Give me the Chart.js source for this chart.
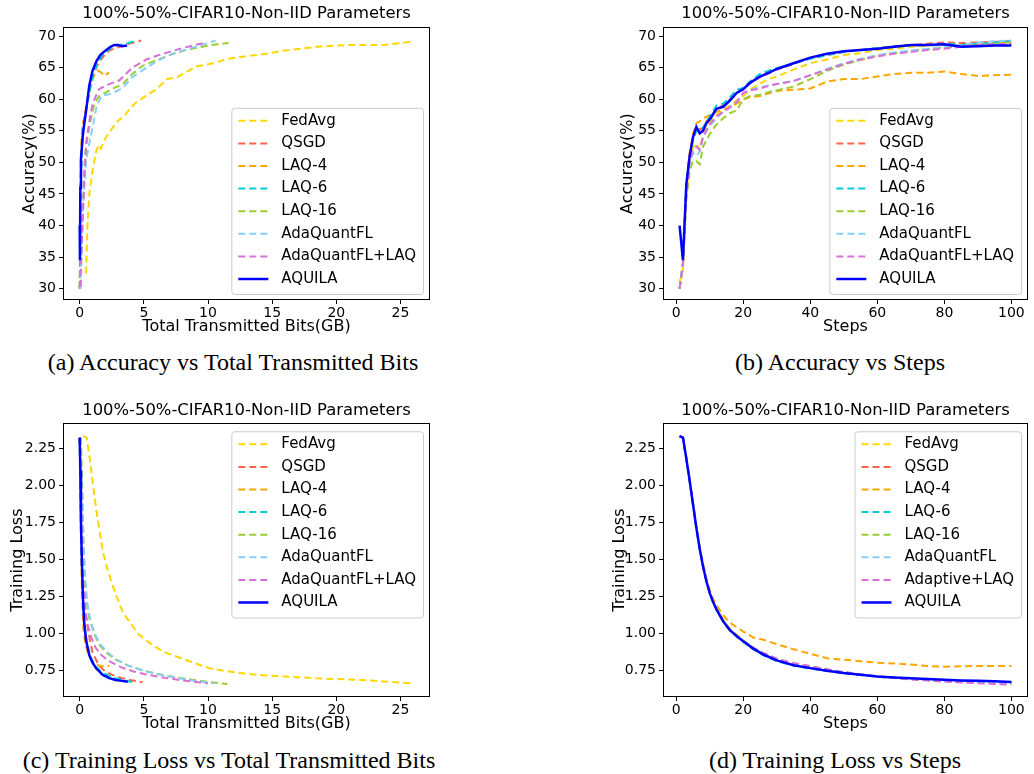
<!DOCTYPE html>
<html>
<head>
<meta charset="utf-8">
<script src="https://cdn.jsdelivr.net/npm/chart.js@4.4.1/dist/chart.umd.min.js"></script>
<style>
  body { margin: 0; width: 1034px; height: 774px; background: #fff; position: relative; overflow: hidden; }
  canvas { position: absolute; }
  .cap { position: absolute; font-family: 'Liberation Serif', 'Times New Roman', serif; font-size: 24px; line-height: 26px; color: #000; white-space: nowrap; transform: translateX(-50%); }
</style>
</head>
<body>
<canvas id="chartA" width="440" height="340" style="left:0;top:0"></canvas>
<canvas id="chartB" width="444" height="340" style="left:590px;top:0"></canvas>
<canvas id="chartC" width="440" height="340" style="left:0;top:397px"></canvas>
<canvas id="chartD" width="444" height="340" style="left:590px;top:397px"></canvas>
<div class="cap" style="left:233px;top:349px">(a) Accuracy vs Total Transmitted Bits</div>
<div class="cap" style="left:840px;top:349px">(b) Accuracy vs Steps</div>
<div class="cap" style="left:229px;top:747px">(c) Training Loss vs Total Transmitted Bits</div>
<div class="cap" style="left:835px;top:747px">(d) Training Loss vs Steps</div>
<script>
// ── Data ─────────────────────────────────────────────────────
const panelTitle = '100%-50%-CIFAR10-Non-IID Parameters';
const seriesNames = ['FedAvg', 'QSGD', 'LAQ-4', 'LAQ-6', 'LAQ-16', 'AdaQuantFL', 'AdaQuantFL+LAQ', 'AQUILA'];
const seriesNamesD = ['FedAvg', 'QSGD', 'LAQ-4', 'LAQ-6', 'LAQ-16', 'AdaQuantFL', 'Adaptive+LAQ', 'AQUILA'];
const accTicks = [30, 35, 40, 45, 50, 55, 60, 65, 70];
const lossTicks = [0.75, 1.00, 1.25, 1.50, 1.75, 2.00, 2.25];
const bitsTicks = [0, 5, 10, 15, 20, 25];
const stepTicks = [0, 20, 40, 60, 80, 100];

// (a) accuracy vs total transmitted bits (GB)
const aBitsFedAvg = [0.5, 0.55, 0.6, 0.75, 1.0, 1.3, 1.5, 1.65, 2.05, 2.6, 3.0, 3.5, 4.0, 4.4, 5.2, 6.0, 6.8, 7.6, 8.3, 9.1, 10.4, 11.5, 13.3, 14.5, 15.9, 17.2, 18.5, 20, 21.1, 22.5, 23.7, 25, 26];
const aAccFedAvg = [32.4, 36, 39.8, 45, 48.7, 51.9, 52.8, 52.2, 54, 55.6, 56.6, 57.4, 58.7, 59.5, 60.6, 61.6, 63.2, 63.5, 64.3, 65.2, 65.7, 66.4, 66.9, 67.2, 67.7, 68, 68.3, 68.5, 68.6, 68.6, 68.6, 68.9, 69.2];
const aBitsQSGD = [0, 0.03, 0.08, 0.15, 0.23, 0.4, 0.6, 0.8, 1.0, 1.3, 1.54, 1.9, 2.3, 2.8, 3.4, 4.0, 4.8];
const aAccQSGD = [30, 34, 46, 51.5, 55.6, 57.5, 59.8, 61.8, 63.5, 65, 66, 66.9, 67.7, 68.1, 68.5, 68.9, 69.3];
const aBitsLAQ4 = [0, 0.02, 0.05, 0.1, 0.2, 0.35, 0.6, 0.8, 1.0, 1.2, 1.4, 1.65, 1.9, 2.1, 2.3];
const aAccLAQ4 = [30, 34, 46, 52, 55.6, 57, 59.5, 61.5, 63.2, 64, 64.5, 64.3, 63.7, 64, 64.2];
const aBitsLAQ6 = [0, 0.03, 0.08, 0.15, 0.25, 0.4, 0.6, 0.85, 1.1, 1.4, 1.7, 2.1, 2.5, 2.9, 3.4, 3.8, 4.2];
const aAccLAQ6 = [30, 34, 46, 51, 55, 57, 59.5, 62, 64.2, 65.8, 66.8, 67.6, 68.2, 68.5, 68.7, 68.9, 69.2];
const aBitsLAQ16 = [0.1, 0.12, 0.18, 0.23, 0.36, 0.5, 0.75, 1.0, 1.15, 1.54, 2.05, 2.7, 3.36, 4.1, 4.9, 5.5, 6.5, 7.3, 8.1, 9.0, 10.0, 10.7, 11.6];
const aAccLAQ16 = [30.3, 34, 38, 41, 49.3, 52.5, 55.6, 58, 59.3, 60.6, 61.1, 61.8, 62.4, 64, 65.3, 65.8, 66.6, 67.2, 67.7, 68.1, 68.5, 68.7, 68.9];
const aBitsAda = [0.05, 0.1, 0.23, 0.4, 0.5, 0.7, 0.9, 1.1, 1.3, 1.7, 2.3, 2.9, 3.4, 4.1, 5.2, 6.0, 7.0, 8.0, 9.0, 10.0, 10.6];
const aAccAda = [30, 34, 41.9, 47, 50.3, 52.5, 54.5, 56.5, 58.7, 60.6, 60.8, 61.3, 61.9, 63.5, 65, 66, 67, 67.7, 68.3, 68.9, 69.3];
const aBitsAdaLAQ = [0.05, 0.1, 0.23, 0.35, 0.5, 0.75, 1.0, 1.5, 2.3, 3.1, 4.1, 5.2, 6.0, 7.0, 8.0, 9.0, 9.9];
const aAccAdaLAQ = [30.3, 34, 40, 47, 53, 56.5, 59.3, 61.6, 62.4, 63, 65, 66.3, 66.9, 67.5, 68.1, 68.6, 69.0];
const aBitsAquila = [0, 0.02, 0.05, 0.1, 0.23, 0.35, 0.5, 0.75, 1.0, 1.3, 1.6, 2.0, 2.4, 2.7, 3.0, 3.3, 3.7];
const aAccAquila = [40, 34.5, 46, 50.5, 54, 56, 58.2, 62.2, 64.5, 66, 67, 67.7, 68.3, 68.6, 68.6, 68.4, 68.5];

// (b) accuracy vs steps
const bSteps = [1, 2, 3, 4, 5, 6, 7, 8, 9, 10, 12, 14, 16, 18, 20, 22, 25, 28, 30, 35, 40, 45, 50, 55, 60, 65, 70, 75, 80, 85, 90, 95, 100];
const bAccFedAvg = [31, 33, 45, 50, 52.5, 53, 52, 54.5, 55.5, 56.5, 57.5, 58.3, 59, 59.8, 60.5, 61.5, 62.5, 63.3, 63.6, 64.7, 65.7, 66.3, 67, 67.3, 67.8, 68, 68.3, 68.5, 68.6, 68.6, 68.7, 68.8, 69.0];
const bAccQSGD = [30, 34, 46.5, 51.5, 54, 55.5, 55.2, 55.5, 56.5, 57, 58.5, 59, 60, 61, 61.6, 62.5, 63.5, 64.2, 64.7, 65.6, 66.5, 67, 67.5, 67.8, 68.1, 68.4, 68.6, 68.8, 69.0, 68.9, 69.0, 69.1, 69.2];
const bAccLAQ4 = [30, 33.5, 45, 51, 54.5, 56.2, 56.5, 57, 57.2, 57.5, 58, 58.3, 58.8, 59.3, 60, 60.3, 60.5, 61, 61.3, 61.5, 61.7, 62.8, 63.2, 63.2, 63.6, 64, 64.2, 64.2, 64.4, 64, 63.7, 63.8, 63.9];
const bAccLAQ6 = [30, 34, 46, 51, 53.5, 55, 55, 55.5, 56.5, 57.2, 59, 59.3, 60.3, 61.5, 61.8, 62.8, 64, 64.6, 64.9, 65.7, 66.4, 67, 67.5, 67.8, 68.1, 68.3, 68.5, 68.6, 68.8, 68.6, 68.8, 69, 69.2];
const bAccLAQ16 = [30, 33.5, 44, 48.5, 50.3, 50.2, 49.7, 52.5, 53.5, 54.5, 56, 57, 57.8, 58.2, 60, 60.5, 60.7, 61.2, 61.4, 62, 63.2, 64.5, 65.5, 66.2, 66.9, 67.3, 67.6, 67.9, 68.2, 68.4, 68.6, 68.8, 69.0];
const bAccAda = [30, 34, 45.5, 50, 51.5, 51, 51.8, 54, 55, 55.8, 57, 58, 58.7, 59.5, 61, 61.5, 61.9, 62.2, 62.4, 62.9, 63.8, 64.8, 65.7, 66.4, 67, 67.4, 67.7, 68, 68.3, 68.6, 69, 69.2, 69.3];
const bAccAdaLAQ = [30, 34, 45, 50, 52, 52.5, 52, 54, 55, 56, 57.3, 58, 58.7, 59.5, 61, 61.4, 61.7, 62.2, 62.4, 62.9, 63.8, 64.7, 65.6, 66.3, 66.8, 67.2, 67.5, 67.8, 68, 68.3, 68.6, 68.7, 68.8];
const bAccAquila = [40, 34.5, 46.5, 51, 54, 55.6, 54.6, 55, 56.2, 56.8, 58.5, 58.8, 59.8, 61, 61.6, 62.6, 63.6, 64.3, 64.8, 65.7, 66.6, 67.2, 67.6, 67.8, 68.0, 68.3, 68.6, 68.6, 68.7, 68.3, 68.4, 68.5, 68.5];

// (c) training loss vs total transmitted bits (GB)
const cBitsFedAvg = [0.25, 0.55, 0.75, 1.0, 1.28, 1.55, 1.8, 2.2, 2.58, 3.0, 3.36, 4.0, 4.66, 5.5, 6.5, 7.9, 9, 10.2, 11.5, 12.8, 14.5, 16.7, 18.5, 20.6, 23, 26];
const cLossFedAvg = [2.33, 2.32, 2.2, 2.03, 1.84, 1.69, 1.55, 1.42, 1.32, 1.22, 1.14, 1.06, 0.986, 0.93, 0.874, 0.83, 0.795, 0.76, 0.742, 0.727, 0.713, 0.703, 0.694, 0.688, 0.678, 0.66];
const cBitsQSGD = [0, 0.1, 0.2, 0.35, 0.6, 0.8, 1.0, 1.5, 2.0, 2.6, 3.3, 3.9, 4.9];
const cLossQSGD = [2.32, 1.9, 1.5, 1.2, 1.05, 0.95, 0.87, 0.78, 0.74, 0.716, 0.695, 0.683, 0.667];
const cBitsLAQ4 = [0, 0.05, 0.12, 0.2, 0.3, 0.45, 0.7, 1.0, 1.4, 1.8, 2.0, 2.3];
const cLossLAQ4 = [2.32, 1.9, 1.5, 1.2, 1.02, 0.92, 0.85, 0.81, 0.785, 0.775, 0.78, 0.778];
const cBitsLAQ6 = [0, 0.06, 0.12, 0.2, 0.3, 0.45, 0.65, 0.9, 1.2, 1.6, 2.2, 2.8, 3.5, 4.2];
const cLossLAQ6 = [2.32, 2.0, 1.65, 1.35, 1.15, 1.0, 0.9, 0.83, 0.78, 0.745, 0.715, 0.695, 0.68, 0.667];
const cBitsLAQ16 = [0.1, 0.2, 0.3, 0.4, 0.5, 0.75, 1.15, 1.55, 2.05, 2.8, 3.8, 5.0, 6.3, 7.6, 8.9, 10.2, 11.5];
const cLossLAQ16 = [2.32, 2.0, 1.6, 1.35, 1.23, 1.1, 0.99, 0.92, 0.87, 0.82, 0.78, 0.745, 0.72, 0.7, 0.683, 0.668, 0.656];
const cBitsAda = [0.05, 0.15, 0.3, 0.45, 0.6, 0.85, 1.2, 1.6, 2.1, 2.8, 3.8, 5.0, 6.3, 7.6, 8.9, 10.5];
const cLossAda = [2.32, 2.0, 1.6, 1.35, 1.2, 1.08, 0.99, 0.925, 0.875, 0.825, 0.78, 0.745, 0.718, 0.697, 0.678, 0.66];
const cBitsAdaLAQ = [0, 0.08, 0.18, 0.3, 0.45, 0.65, 0.9, 1.25, 1.7, 2.3, 3.2, 4.2, 5.2, 6.5, 7.8, 9.0, 10.0];
const cLossAdaLAQ = [2.32, 1.95, 1.55, 1.3, 1.15, 1.05, 0.97, 0.9, 0.85, 0.81, 0.77, 0.74, 0.72, 0.7, 0.683, 0.67, 0.66];
const cBitsAquila = [0, 0.05, 0.1, 0.18, 0.25, 0.35, 0.5, 0.75, 1.0, 1.3, 1.8, 2.3, 2.8, 3.3, 3.75];
const cLossAquila = [2.32, 2.1, 1.75, 1.45, 1.25, 1.07, 0.95, 0.85, 0.8, 0.76, 0.717, 0.695, 0.683, 0.677, 0.671];

// (d) training loss vs steps
const dSteps = [1, 2, 3, 4, 5, 6, 7, 8, 9, 10, 11, 12, 14, 16, 18, 20, 23, 26, 30, 35, 40, 45, 50, 55, 60, 65, 70, 75, 80, 85, 90, 95, 100];
const dLossFedAvg = [2.33, 2.32, 2.19, 2.04, 1.88, 1.72, 1.58, 1.46, 1.36, 1.28, 1.22, 1.17, 1.09, 1.03, 0.99, 0.95, 0.9, 0.86, 0.82, 0.787, 0.765, 0.746, 0.731, 0.718, 0.706, 0.698, 0.691, 0.685, 0.679, 0.674, 0.670, 0.667, 0.665];
const dLossQSGD = [2.33, 2.32, 2.18, 2.03, 1.87, 1.71, 1.57, 1.45, 1.35, 1.27, 1.21, 1.16, 1.08, 1.02, 0.98, 0.945, 0.893, 0.852, 0.812, 0.782, 0.762, 0.744, 0.729, 0.717, 0.705, 0.697, 0.690, 0.684, 0.678, 0.674, 0.671, 0.669, 0.667];
const dLossLAQ4 = [2.33, 2.32, 2.18, 2.03, 1.88, 1.72, 1.58, 1.47, 1.37, 1.29, 1.23, 1.19, 1.12, 1.07, 1.04, 1.01, 0.97, 0.955, 0.925, 0.89, 0.86, 0.83, 0.82, 0.81, 0.80, 0.795, 0.788, 0.777, 0.772, 0.776, 0.778, 0.778, 0.777];
const dLossLAQ6 = [2.33, 2.32, 2.18, 2.03, 1.87, 1.71, 1.57, 1.45, 1.35, 1.27, 1.21, 1.16, 1.08, 1.02, 0.975, 0.94, 0.89, 0.85, 0.81, 0.78, 0.76, 0.744, 0.729, 0.717, 0.705, 0.697, 0.690, 0.684, 0.678, 0.674, 0.671, 0.669, 0.667];
const dLossLAQ16 = [2.33, 2.32, 2.18, 2.03, 1.87, 1.71, 1.57, 1.45, 1.35, 1.27, 1.21, 1.16, 1.08, 1.02, 0.98, 0.945, 0.9, 0.865, 0.825, 0.795, 0.775, 0.755, 0.737, 0.722, 0.708, 0.698, 0.690, 0.683, 0.676, 0.671, 0.667, 0.663, 0.660];
const dLossAda = [2.33, 2.32, 2.18, 2.03, 1.87, 1.71, 1.57, 1.45, 1.35, 1.27, 1.21, 1.16, 1.08, 1.02, 0.98, 0.945, 0.9, 0.862, 0.822, 0.792, 0.772, 0.752, 0.735, 0.72, 0.707, 0.697, 0.689, 0.682, 0.675, 0.670, 0.666, 0.662, 0.660];
const dLossAdaLAQ = [2.33, 2.32, 2.18, 2.03, 1.87, 1.71, 1.57, 1.45, 1.35, 1.27, 1.21, 1.16, 1.08, 1.02, 0.98, 0.945, 0.9, 0.865, 0.827, 0.797, 0.776, 0.755, 0.736, 0.72, 0.706, 0.696, 0.687, 0.679, 0.672, 0.666, 0.661, 0.656, 0.652];
const dLossAquila = [2.33, 2.32, 2.18, 2.03, 1.87, 1.71, 1.57, 1.45, 1.35, 1.27, 1.21, 1.16, 1.08, 1.02, 0.98, 0.945, 0.895, 0.855, 0.815, 0.783, 0.763, 0.745, 0.730, 0.718, 0.706, 0.700, 0.694, 0.690, 0.684, 0.680, 0.677, 0.674, 0.670];

// ── Styles ───────────────────────────────────────────────────
const seriesColors = ['#FFD700', '#FF6347', '#FFA500', '#00CED1', '#9ACD32', '#87CEFA', '#DA70D6', '#0000FF'];
const FONT = "'DejaVu Sans', sans-serif";

function pts(xs, ys) { return xs.map((x, i) => ({ x, y: ys[i] })); }

function buildSets(names, seriesXY) {
  return seriesXY.map(([xs, ys], i) => ({
    label: names[i],
    data: pts(xs, ys),
    borderColor: seriesColors[i],
    backgroundColor: seriesColors[i],
    borderWidth: i === 7 ? 2.5 : 2,
    borderDash: i === 7 ? [] : [7, 4],
    pointRadius: 0,
    tension: 0,
    fill: false,
    order: 8 - i
  }));
}

// frame around plot + matplotlib-style legend inside the axes
const axesDecor = {
  id: 'axesDecor',
  afterDatasetsDraw(chart, args, opts) {
    const { ctx, chartArea: a } = chart;
    ctx.save();
    ctx.strokeStyle = '#000';
    ctx.lineWidth = 1;
    ctx.strokeRect(Math.round(a.left) + 0.5, Math.round(a.top) + 0.5, Math.round(a.right - a.left) - 1, Math.round(a.bottom - a.top) - 1);

    const sets = chart.data.datasets;
    ctx.font = '15px ' + FONT;
    const textW = Math.max(...sets.map(d => ctx.measureText(d.label).width));
    const rowH = 22.6;
    const w = 7 + 30 + 13 + textW + 7;
    const h = 13 + rowH * (sets.length - 1) + 15;
    const x = a.right - 7 - w;
    const y = opts.corner === 'upper' ? a.top + 8 : a.bottom - 6 - h;
    ctx.globalAlpha = 0.8;
    ctx.fillStyle = '#fff';
    ctx.beginPath();
    ctx.roundRect(x + 0.5, y + 0.5, w, h, 3);
    ctx.fill();
    ctx.globalAlpha = 1;
    ctx.strokeStyle = '#cccccc';
    ctx.stroke();
    ctx.textBaseline = 'middle';
    ctx.fillStyle = '#000';
    sets.forEach((d, i) => {
      const cy = y + 13 + i * rowH;
      ctx.strokeStyle = d.borderColor;
      ctx.lineWidth = d.borderWidth;
      ctx.setLineDash(d.borderDash);
      ctx.beginPath();
      ctx.moveTo(x + 7, cy);
      ctx.lineTo(x + 37, cy);
      ctx.stroke();
      ctx.setLineDash([]);
      ctx.fillText(d.label, x + 50, cy);
    });
    ctx.restore();
  }
};

function makeChart(id, sets, o) {
  return new Chart(document.getElementById(id), {
    type: 'line',
    data: { datasets: sets },
    options: {
      responsive: false, animation: false, devicePixelRatio: 1,
      layout: { padding: { left: 0, right: o.padRight, top: 0, bottom: 0 } },
      plugins: {
        legend: { display: false },
        tooltip: { enabled: false },
        title: { display: true, text: panelTitle, fullSize: false, color: '#000', font: { family: FONT, size: 16.4, weight: 'normal' }, padding: { top: 4.2, bottom: o.titleBottom } },
        axesDecor: { corner: o.corner }
      },
      scales: {
        x: {
          type: 'linear', min: o.xMin, max: o.xMax,
          afterBuildTicks: s => { s.ticks = o.xTicks.map(v => ({ value: v })); },
          afterFit: s => { s.height = 40; },
          ticks: { color: '#000', font: { family: FONT, size: 14 }, padding: 1, maxRotation: 0, callback: v => v },
          grid: { drawOnChartArea: false, tickLength: 4, color: '#000' },
          border: { display: false },
          title: { display: true, text: o.xTitle, color: '#000', font: { family: FONT, size: 16 }, padding: { top: 0, bottom: 4 } }
        },
        y: {
          type: 'linear', min: o.yMin, max: o.yMax,
          afterBuildTicks: s => { s.ticks = o.yTicks.map(v => ({ value: v })); },
          afterFit: s => { s.width = o.yWidth; },
          ticks: { color: '#000', font: { family: FONT, size: 14 }, padding: 3, callback: o.yFmt },
          grid: { drawOnChartArea: false, tickLength: 4, color: '#000' },
          border: { display: false },
          title: { display: true, text: o.yTitle, color: '#000', font: { family: FONT, size: 16 }, padding: { top: o.yTitlePad, bottom: 0 } }
        }
      }
    },
    plugins: [axesDecor]
  });
}

const accFmt = v => v;
const lossFmt = v => Number(v).toFixed(2);

makeChart('chartA', buildSets(seriesNames, [
  [aBitsFedAvg, aAccFedAvg], [aBitsQSGD, aAccQSGD], [aBitsLAQ4, aAccLAQ4], [aBitsLAQ6, aAccLAQ6],
  [aBitsLAQ16, aAccLAQ16], [aBitsAda, aAccAda], [aBitsAdaLAQ, aAccAdaLAQ], [aBitsAquila, aAccAquila]
]), { padRight: 10, titleBottom: 3.4, corner: 'lower', xMin: -1.3, xMax: 27.3, xTicks: bitsTicks, xTitle: 'Total Transmitted Bits(GB)',
      yMin: 28.2, yMax: 71.4, yTicks: accTicks, yWidth: 63, yTitle: 'Accuracy(%)', yTitlePad: 20.4, yFmt: accFmt });

makeChart('chartB', buildSets(seriesNames, [
  [bSteps, bAccFedAvg], [bSteps, bAccQSGD], [bSteps, bAccLAQ4], [bSteps, bAccLAQ6],
  [bSteps, bAccLAQ16], [bSteps, bAccAda], [bSteps, bAccAdaLAQ], [bSteps, bAccAquila]
]), { padRight: 6, titleBottom: 3.4, corner: 'lower', xMin: -3.95, xMax: 104.95, xTicks: stepTicks, xTitle: 'Steps',
      yMin: 28.2, yMax: 71.4, yTicks: accTicks, yWidth: 73, yTitle: 'Accuracy(%)', yTitlePad: 28.4, yFmt: accFmt });

makeChart('chartC', buildSets(seriesNames, [
  [cBitsFedAvg, cLossFedAvg], [cBitsQSGD, cLossQSGD], [cBitsLAQ4, cLossLAQ4], [cBitsLAQ6, cLossLAQ6],
  [cBitsLAQ16, cLossLAQ16], [cBitsAda, cLossAda], [cBitsAdaLAQ, cLossAdaLAQ], [cBitsAquila, cLossAquila]
]), { padRight: 10, titleBottom: 2.4, corner: 'upper', xMin: -1.3, xMax: 27.3, xTicks: bitsTicks, xTitle: 'Total Transmitted Bits(GB)',
      yMin: 0.568, yMax: 2.417, yTicks: lossTicks, yWidth: 63, yTitle: 'Training Loss', yTitlePad: 8.4, yFmt: lossFmt });

makeChart('chartD', buildSets(seriesNamesD, [
  [dSteps, dLossFedAvg], [dSteps, dLossQSGD], [dSteps, dLossLAQ4], [dSteps, dLossLAQ6],
  [dSteps, dLossLAQ16], [dSteps, dLossAda], [dSteps, dLossAdaLAQ], [dSteps, dLossAquila]
]), { padRight: 6, titleBottom: 2.4, corner: 'upper', xMin: -3.95, xMax: 104.95, xTicks: stepTicks, xTitle: 'Steps',
      yMin: 0.568, yMax: 2.417, yTicks: lossTicks, yWidth: 73, yTitle: 'Training Loss', yTitlePad: 20.4, yFmt: lossFmt });
</script>
</body>
</html>
